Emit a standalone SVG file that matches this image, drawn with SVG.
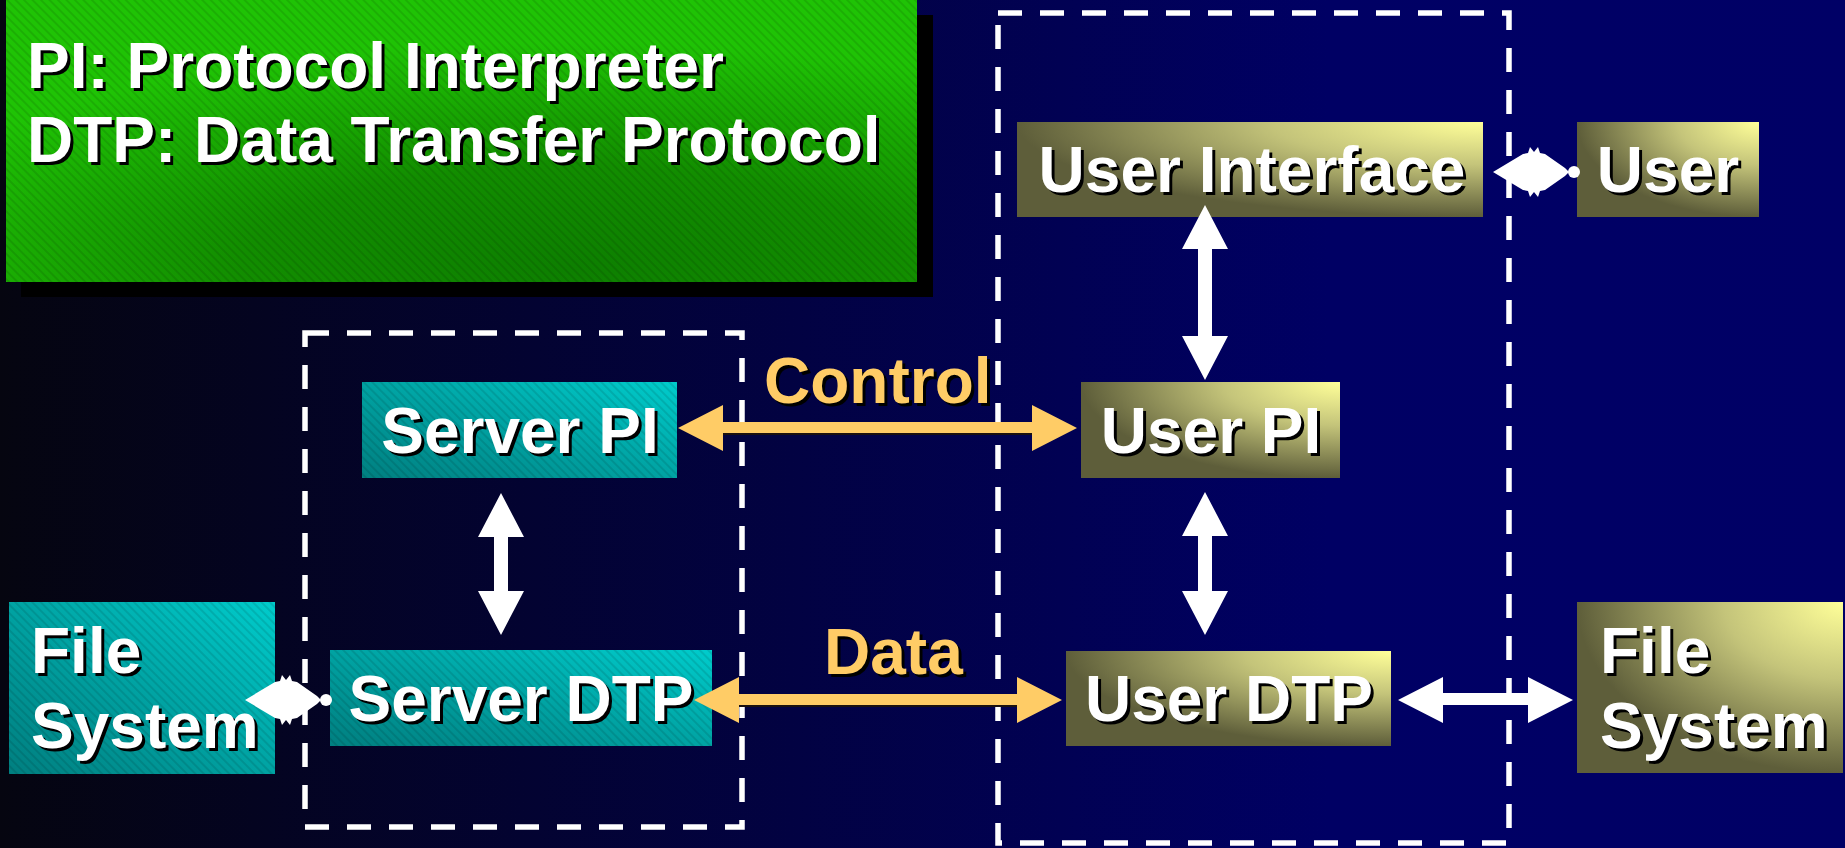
<svg xmlns="http://www.w3.org/2000/svg" width="1845" height="848" viewBox="0 0 1845 848">
  <defs>
    <linearGradient id="bg" x1="0" y1="0" x2="1" y2="0">
      <stop offset="0" stop-color="#050510"/>
      <stop offset="0.72" stop-color="#000064"/>
      <stop offset="1" stop-color="#000066"/>
    </linearGradient>
    <radialGradient id="greenFill" cx="0.62" cy="0.95" r="0.8">
      <stop offset="0" stop-color="#0d7f00"/>
      <stop offset="0.45" stop-color="#128d00"/>
      <stop offset="1" stop-color="#1fc305"/>
    </radialGradient>
    <linearGradient id="tealFill" x1="0" y1="1" x2="1" y2="0">
      <stop offset="0" stop-color="#007f80"/>
      <stop offset="0.5" stop-color="#00a3a3"/>
      <stop offset="1" stop-color="#00cccc"/>
    </linearGradient>
    <radialGradient id="oliveFill" cx="1" cy="0" r="1">
      <stop offset="0" stop-color="#ffff99"/>
      <stop offset="0.45" stop-color="#c4c47a"/>
      <stop offset="1" stop-color="#5e5e3a"/>
    </radialGradient>
    <pattern id="stripes" width="6" height="6" patternUnits="userSpaceOnUse" patternTransform="rotate(45)">
      <rect width="6" height="2" fill="#000000" fill-opacity="0.10"/>
    </pattern>
    <!-- small joined double-head link with round end -->
    <g id="link">
      <path d="M0,0 L30,-18 L35,-19 L37,-25 L41,-20 L45,-25 L47,-19 L52,-18 L72,-4 L76,0 L72,4 L52,18 L47,19 L45,25 L41,20 L37,25 L35,19 L30,18 Z" fill="#ffffff"/>
      <circle cx="81" cy="0" r="6" fill="#ffffff"/>
    </g>
    <style>
      .lbl { font-family: "Liberation Sans", Arial, sans-serif; font-weight: bold; font-size: 64px; }
      .white { fill: #ffffff; }
      .orange { fill: #ffcc66; }
      .shadow { fill: #000000; }
      .mid { text-anchor: middle; }
      .dash { fill: none; stroke: #ffffff; stroke-width: 5.5; stroke-dasharray: 24 18; }
      .teal { fill: url(#tealFill); }
      .olive { fill: url(#oliveFill); }
      .warrow { fill: #ffffff; }
      .oarrow { fill: #ffcc66; }
    </style>
  </defs>

  <!-- background -->
  <rect x="0" y="0" width="1845" height="848" fill="url(#bg)"/>

  <!-- legend panel -->
  <g id="legend">
    <rect x="21" y="15" width="912" height="282" fill="#000000"/>
    <rect x="6" y="0" width="911" height="282" fill="url(#greenFill)"/>
    <rect x="6" y="0" width="911" height="282" fill="url(#stripes)"/>
    <text class="lbl shadow" x="30" y="91">PI: Protocol Interpreter</text>
    <text class="lbl white" x="27" y="88">PI: Protocol Interpreter</text>
    <text class="lbl shadow" x="30" y="165">DTP: Data Transfer Protocol</text>
    <text class="lbl white" x="27" y="162">DTP: Data Transfer Protocol</text>
  </g>

  <!-- dashed groupings -->
  <g id="server-side">
    <rect class="dash" x="305" y="333" width="437" height="494"/>
  </g>
  <g id="user-side">
    <rect class="dash" x="998" y="13" width="511" height="830"/>
  </g>

  <!-- nodes -->
  <g id="file-system-server">
    <rect class="teal" x="9" y="602" width="266" height="172"/>
    <rect x="9" y="602" width="266" height="172" fill="url(#stripes)"/>
    <text class="lbl shadow" x="34" y="676">File</text>
    <text class="lbl white" x="31" y="673">File</text>
    <text class="lbl shadow" x="34" y="751">System</text>
    <text class="lbl white" x="31" y="748">System</text>
  </g>
  <g id="server-pi">
    <rect class="teal" x="362" y="382" width="315" height="96"/>
    <rect x="362" y="382" width="315" height="96" fill="url(#stripes)"/>
    <text class="lbl shadow mid" x="523" y="456">Server PI</text>
    <text class="lbl white mid" x="520" y="453">Server PI</text>
  </g>
  <g id="server-dtp">
    <rect class="teal" x="330" y="650" width="382" height="96"/>
    <rect x="330" y="650" width="382" height="96" fill="url(#stripes)"/>
    <text class="lbl shadow mid" x="524" y="724">Server DTP</text>
    <text class="lbl white mid" x="521" y="721">Server DTP</text>
  </g>
  <g id="user-interface">
    <rect class="olive" x="1017" y="122" width="466" height="95"/>
    <text class="lbl shadow mid" x="1255" y="195">User Interface</text>
    <text class="lbl white mid" x="1252" y="192">User Interface</text>
  </g>
  <g id="user">
    <rect class="olive" x="1577" y="122" width="182" height="95"/>
    <text class="lbl shadow mid" x="1671" y="195">User</text>
    <text class="lbl white mid" x="1668" y="192">User</text>
  </g>
  <g id="user-pi">
    <rect class="olive" x="1081" y="382" width="259" height="96"/>
    <text class="lbl shadow mid" x="1214" y="456">User PI</text>
    <text class="lbl white mid" x="1211" y="453">User PI</text>
  </g>
  <g id="user-dtp">
    <rect class="olive" x="1066" y="651" width="325" height="95"/>
    <text class="lbl shadow mid" x="1232" y="724">User DTP</text>
    <text class="lbl white mid" x="1229" y="721">User DTP</text>
  </g>
  <g id="file-system-user">
    <rect class="olive" x="1577" y="602" width="266" height="171"/>
    <text class="lbl shadow" x="1603" y="676">File</text>
    <text class="lbl white" x="1600" y="673">File</text>
    <text class="lbl shadow" x="1603" y="751">System</text>
    <text class="lbl white" x="1600" y="748">System</text>
  </g>

  <!-- connectors -->
  <g id="connectors">
    <!-- User Interface <-> User PI -->
    <path class="warrow" d="M1205,205 L1228,249 L1212,249 L1212,336 L1228,336 L1205,380 L1182,336 L1198,336 L1198,249 L1182,249 Z"/>
    <!-- User PI <-> User DTP -->
    <path class="warrow" d="M1205,492 L1228,536 L1212,536 L1212,591 L1228,591 L1205,635 L1182,591 L1198,591 L1198,536 L1182,536 Z"/>
    <!-- Server PI <-> Server DTP -->
    <path class="warrow" d="M501,493 L524,537 L508,537 L508,591 L524,591 L501,635 L478,591 L494,591 L494,537 L478,537 Z"/>
    <!-- control channel -->
    <path d="M723,434 L1032,434" stroke="#1a1010" stroke-width="2"/>
    <path class="oarrow" d="M678,428 L723,405 L723,422 L1032,422 L1032,405 L1077,428 L1032,451 L1032,433 L723,433 L723,451 Z"/>
    <!-- data channel -->
    <path d="M739,706 L1017,706" stroke="#1a1010" stroke-width="2"/>
    <path class="oarrow" d="M694,700 L739,677 L739,694 L1017,694 L1017,677 L1062,700 L1017,723 L1017,705 L739,705 L739,723 Z"/>
    <!-- User DTP <-> File System -->
    <path class="warrow" d="M1398,700 L1443,677 L1443,693 L1528,693 L1528,677 L1573,700 L1528,723 L1528,705 L1443,705 L1443,723 Z"/>
    <!-- User Interface <-> User -->
    <use href="#link" x="1493" y="172"/>
    <!-- File System <-> Server DTP -->
    <use href="#link" x="245" y="700"/>
  </g>

  <!-- channel labels -->
  <g id="channel-labels">
    <text class="lbl shadow" x="767" y="406">Control</text>
    <text class="lbl orange" x="764" y="403">Control</text>
    <text class="lbl shadow" x="827" y="677">Data</text>
    <text class="lbl orange" x="824" y="674">Data</text>
  </g>
</svg>
